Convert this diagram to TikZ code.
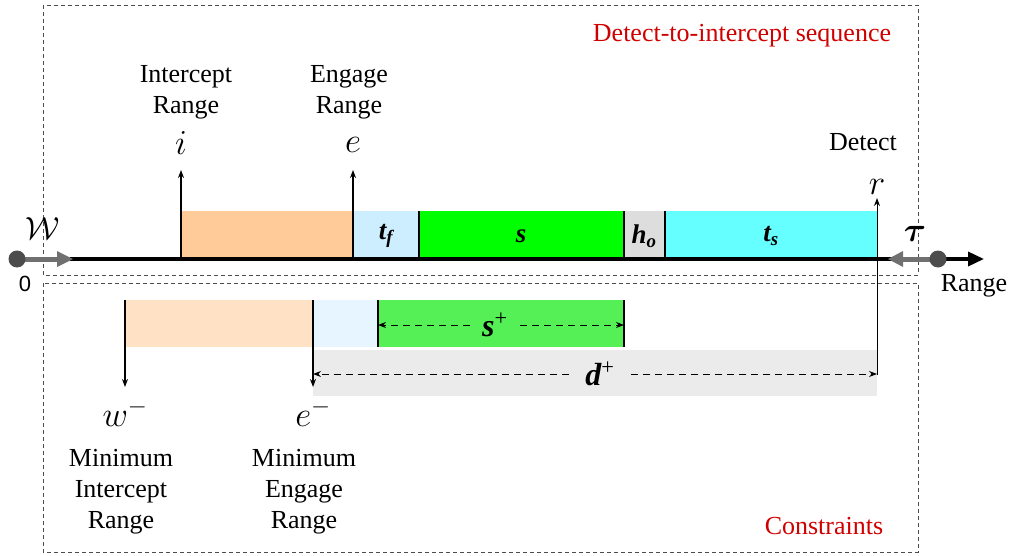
\RequirePackage{fix-cm}
\documentclass[tikz,border=0pt]{standalone}
\usepackage{fontspec}
\setmainfont{Liberation Serif}
\newfontfamily\sansf{Liberation Sans}
\usepackage{bm}
\usetikzlibrary{arrows.meta}
\definecolor{peach}{HTML}{FFCC99}
\definecolor{lblue}{HTML}{CCEEFF}
\definecolor{sgreen}{HTML}{00FF00}
\definecolor{hgray}{HTML}{DDDDDD}
\definecolor{scyan}{HTML}{66FFFF}
\definecolor{ppeach}{HTML}{FFE2C6}
\definecolor{plblue}{HTML}{E6F5FF}
\definecolor{pgreen}{HTML}{55F055}
\definecolor{pgray}{HTML}{EBEBEB}
\definecolor{redtxt}{HTML}{D00000}
\definecolor{marker}{HTML}{707070}
\tikzset{
  txt/.style={font=\fontsize{26}{31}\selectfont, align=center, inner sep=0pt},
  mth/.style={font=\fontsize{35}{38}\selectfont, inner sep=0pt},
  bar/.style={font=\fontsize{27}{30}\selectfont\bfseries\itshape, inner sep=0pt},
  dimlab/.style={font=\fontsize{32}{34}\selectfont\bfseries\itshape, inner sep=0pt},
  frame/.style={draw=black!70, dash pattern=on 4pt off 3pt, line width=0.8pt},
  redlab/.style={txt, text=redtxt},
  vline/.style={line width=1.2pt},
  uparrow/.style={line width=1.3pt, -{Stealth[length=8pt,width=6pt]}},
  dimarrow/.style={dash pattern=on 7pt off 5pt, line width=1pt, -{Stealth[length=8pt,width=6pt]}},
}
\begin{document}
\begin{tikzpicture}[x=1pt,y=-1pt]
\useasboundingbox (0,0) rectangle (1011,556);
% frames
\draw[frame] (43,5) rectangle (918,275);
\draw[frame] (43,283) rectangle (918,552);
\node[redlab] (seq) at (742,36) {Detect-to-intercept sequence};
\node[redlab] (cons) at (824,526) {Constraints};
% top bars
\fill[peach] (181,211) rectangle (353,259);
\fill[lblue] (353,211) rectangle (419,259);
\fill[sgreen] (419,211) rectangle (624,259);
\fill[hgray] (624,211) rectangle (665,259);
\fill[scyan] (665,211) rectangle (877,259);
\draw[vline] (419,211) -- (419,259);
\draw[vline] (624,211) -- (624,259);
\draw[vline] (665,211) -- (665,259);
\node[bar] (tf) at (386,236) {t\textsubscript{f}};
\node[bar] (s) at (521,236) {s};
\node[bar] (ho) at (644,236) {h\textsubscript{o}};
\node[bar] (ts) at (771,236) {t\textsubscript{s}};
% bottom bars
\fill[ppeach] (125,300) rectangle (313,347);
\fill[plblue] (313,300) rectangle (378,347);
\fill[pgreen] (378,300) rectangle (624,347);
\fill[pgray] (313,350) rectangle (877,396);
\draw[vline] (378,300) -- (378,347);
\draw[vline] (624,300) -- (624,347);
% main axis
\coordinate (axL) at (70,259);
\coordinate (axR) at (984,259);
\draw[line width=3.5pt, -{Triangle[length=16pt,width=14pt]}] (axL) -- (axR);
\node[txt] (range) at (974,286) {Range};
\node[txt, font=\fontsize{22}{24}\selectfont\sansf] (zero) at (25,284) {0};
% W marker
\coordinate (wc) at (17,259);
\coordinate (wt) at (73,259);
\draw[line width=5pt, marker] (wc) -- (60,259);
\fill[marker] (57,251) -- (wt) -- (57,267) -- cycle;
\fill[black!70] (wc) circle (8.5);
\node[mth, font=\fontsize{32}{34}\selectfont] (W) at (43,229) {$\mathcal{W}$};
% tau marker
\coordinate (tc) at (938,259);
\coordinate (tt) at (888,259);
\draw[line width=5pt, marker] (tc) -- (900,259);
\fill[marker] (903,251) -- (tt) -- (903,267) -- cycle;
\fill[black!70] (tc) circle (8.5);
\node[mth, font=\fontsize{34}{36}\selectfont] (tau) at (915,234) {$\bm{\tau}$};
% up arrows
\coordinate (i0) at (181,259);
\coordinate (i1) at (181,170);
\coordinate (e0) at (353,259);
\coordinate (e1) at (353,170);
\coordinate (r0) at (877,375);
\coordinate (r1) at (877,198);
\draw[uparrow] (i0) -- (i1);
\draw[uparrow] (e0) -- (e1);
\draw[uparrow, line width=1pt] (r0) -- (r1);
\node[mth] (i) at (181,143) {$i$};
\node[mth] (e) at (353,145) {$e$};
\node[mth] (r) at (877,187) {$r$};
\node[txt] (IR) at (186,92) {Intercept\\Range};
\node[txt] (ER) at (349,92) {Engage\\Range};
\node[txt] (det) at (863,142) {Detect};
% down arrows
\coordinate (w0) at (125,300);
\coordinate (w1) at (125,387);
\coordinate (em0) at (313,300);
\coordinate (em1) at (313,387);
\draw[uparrow] (w0) -- (w1);
\draw[uparrow] (em0) -- (em1);
\node[mth] (wm) at (125,413) {$w^-$};
\node[mth] (emn) at (313,413) {$e^-$};
\node[txt] (MIR) at (121,492) {Minimum\\Intercept\\Range};
\node[txt] (MER) at (304,492) {Minimum\\Engage\\Range};
% dimension arrows
\node[dimlab] (sp) at (495,325) {s\textsuperscript{\normalfont +}};
\coordinate (spL) at (378,325);
\coordinate (spR) at (624,325);
\draw[dimarrow] ([xshift=-12pt]sp.west) -- (spL);
\draw[dimarrow] ([xshift=12pt]sp.east) -- (spR);
\node[dimlab] (dp) at (600,374) {d\textsuperscript{\normalfont +}};
\coordinate (dpL) at (313,374);
\coordinate (dpR) at (877,374);
\draw[dimarrow] ([xshift=-16pt]dp.west) -- (dpL);
\draw[dimarrow] ([xshift=16pt]dp.east) -- (dpR);
\end{tikzpicture}
\end{document}
